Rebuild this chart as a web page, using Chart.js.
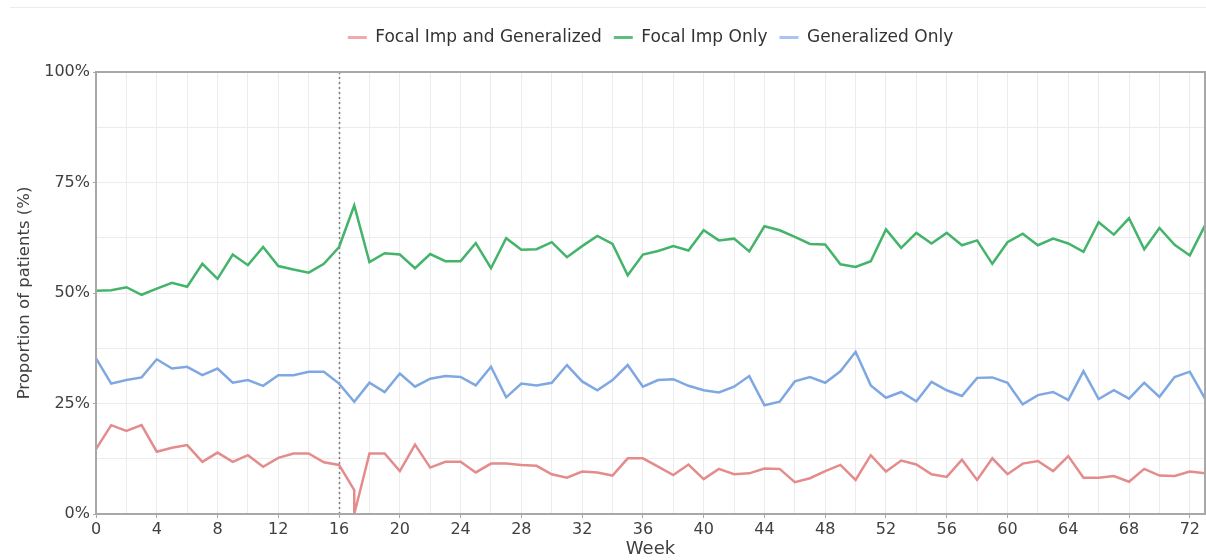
<!DOCTYPE html>
<html>
<head>
<meta charset="utf-8">
<script src="https://cdn.jsdelivr.net/npm/chart.js@4/dist/chart.umd.min.js"></script>
<style>
  html, body { margin: 0; padding: 0; background: #ffffff; }
  #wrap { position: relative; width: 1206px; height: 560px; }
  #topline { position: absolute; left: 10px; right: 0; top: 7px; height: 0; border-top: 1px solid #ececec; }
  canvas { display: block; }
</style>
</head>
<body>
<div id="wrap">
  <div id="topline"></div>
  <canvas id="c" width="1206" height="560"></canvas>
</div>
<script>
// ---- Data ----
const weeks = [0,1,2,3,4,5,6,7,8,9,10,11,12,13,14,15,16,17,18,19,20,21,22,23,24,25,26,27,28,29,30,31,32,33,34,35,36,37,38,39,40,41,42,43,44,45,46,47,48,49,50,51,52,53,54,55,56,57,58,59,60,61,62,63,64,65,66,67,68,69,70,71,72,73];

// Focal Imp and Generalized has two observations plotted at week 17
const focalGenWeeks = [0,1,2,3,4,5,6,7,8,9,10,11,12,13,14,15,16,17,17,18,19,20,21,22,23,24,25,26,27,28,29,30,31,32,33,34,35,36,37,38,39,40,41,42,43,44,45,46,47,48,49,50,51,52,53,54,55,56,57,58,59,60,61,62,63,64,65,66,67,68,69,70,71,72,73];
const focalGen = [14.7,20.1,18.8,20.1,14.1,15.0,15.6,11.8,13.9,11.8,13.3,10.7,12.7,13.7,13.7,11.7,11.1,5.4,0,13.7,13.7,9.7,15.7,10.5,11.8,11.8,9.4,11.4,11.4,11.1,10.9,9.0,8.2,9.6,9.4,8.7,12.6,12.6,10.7,8.8,11.2,7.9,10.2,9.0,9.2,10.3,10.2,7.2,8.1,9.7,11.1,7.7,13.3,9.6,12.1,11.2,9.0,8.4,12.3,7.7,12.6,9.0,11.4,12.0,9.7,13.1,8.2,8.2,8.6,7.3,10.2,8.7,8.6,9.6,9.2];

const focalOnly = [50.5,50.6,51.3,49.6,51.0,52.3,51.4,56.6,53.2,58.7,56.3,60.4,56.1,55.3,54.6,56.6,60.4,69.8,57.0,59.0,58.7,55.6,58.8,57.2,57.2,61.3,55.6,62.4,59.8,59.9,61.5,58.1,60.6,62.9,61.1,54.0,58.7,59.5,60.6,59.6,64.2,61.9,62.3,59.4,65.1,64.2,62.7,61.1,61.0,56.5,55.9,57.2,64.4,60.2,63.6,61.2,63.6,60.8,61.9,56.6,61.5,63.4,60.8,62.3,61.2,59.3,66.0,63.2,66.9,59.9,64.7,60.9,58.5,65.3];

const generalizedOnly = [35.2,29.5,30.3,30.9,35.0,32.9,33.3,31.4,32.9,29.7,30.3,29.0,31.4,31.4,32.2,32.2,29.5,25.4,29.7,27.6,31.8,28.8,30.6,31.2,31.0,29.1,33.3,26.4,29.5,29.1,29.7,33.7,30.0,28.0,30.3,33.7,28.8,30.3,30.5,29.0,28.0,27.5,28.8,31.2,24.6,25.4,30.0,31.0,29.7,32.3,36.7,29.1,26.3,27.6,25.5,29.9,28.0,26.7,30.8,30.9,29.7,24.8,26.9,27.6,25.8,32.3,26.0,28.0,26.1,29.7,26.5,31.0,32.2,26.1];

const seriesNames = ['Focal Imp and Generalized', 'Focal Imp Only', 'Generalized Only'];
const xTickLabels = [0,4,8,12,16,20,24,28,32,36,40,44,48,52,56,60,64,68,72];
const yTickLabels = [0,25,50,75,100];
const dividerWeek = 16;

// ---- Styles ----
const colors = ['#e48c8c', '#43b46a', '#7fa8e2'];
const legendColors = ['#f2a9a9', '#5cc17e', '#a9c4ee'];
const FONT = "'DejaVu Sans', sans-serif";

function pts(xs, ys) { return ys.map((v, i) => ({ x: xs[i], y: v })); }

const frameAndDivider = {
  id: 'frameAndDivider',
  beforeDatasetsDraw(chart) {
    const { ctx, chartArea: a, scales: { x } } = chart;
    const px = Math.round(x.getPixelForValue(dividerWeek)) + 0.5;
    ctx.save();
    ctx.strokeStyle = '#7a7a7a';
    ctx.lineWidth = 1.5;
    ctx.setLineDash([2, 3]);
    ctx.beginPath();
    ctx.moveTo(px, a.top);
    ctx.lineTo(px, a.bottom);
    ctx.stroke();
    ctx.restore();
  },
  afterDraw(chart) {
    const { ctx, chartArea: a } = chart;
    ctx.save();
    ctx.strokeStyle = '#a8a8a8';
    ctx.lineWidth = 2;
    ctx.strokeRect(a.left, a.top, a.right - a.left, a.bottom - a.top);
    ctx.restore();
  }
};

const legendHeight = {
  id: 'legendHeight',
  beforeLayout(chart) {
    const lg = chart.legend;
    if (lg && !lg.__patched) {
      const orig = lg.fit;
      lg.fit = function () { orig.call(this); this.height = 55; };
      lg.__patched = true;
    }
  }
};

new Chart(document.getElementById('c'), {
  type: 'line',
  data: {
    datasets: [
      { label: seriesNames[0], data: pts(focalGenWeeks, focalGen) },
      { label: seriesNames[1], data: pts(weeks, focalOnly) },
      { label: seriesNames[2], data: pts(weeks, generalizedOnly) }
    ].map((d, i) => Object.assign(d, {
      borderColor: colors[i],
      backgroundColor: legendColors[i],
      borderWidth: 2.5,
      pointRadius: 0,
      tension: 0,
      fill: false
    }))
  },
  options: {
    responsive: false,
    animation: false,
    parsing: true,
    layout: { padding: { top: 17, left: 0, right: 1, bottom: 0 } },
    plugins: {
      tooltip: { enabled: false },
      legend: {
        position: 'top',
        fullSize: false,
        labels: {
          font: { family: FONT, size: 17 },
          color: '#333333',
          boxWidth: 19,
          boxHeight: 3,
          padding: 12,
          generateLabels(chart) {
            return chart.data.datasets.map((d, i) => ({
              text: d.label,
              fillStyle: legendColors[i],
              strokeStyle: legendColors[i],
              lineWidth: 0,
              hidden: false,
              datasetIndex: i,
              fontColor: '#333333'
            }));
          }
        }
      }
    },
    scales: {
      x: {
        type: 'linear',
        min: 0,
        max: 73,
        afterFit(s) { s.height = 46; },
        ticks: {
          stepSize: 2,
          includeBounds: false,
          autoSkip: false,
          maxRotation: 0,
          padding: 2,
          color: '#404040',
          font: { family: FONT, size: 16 },
          callback: (v) => xTickLabels.includes(v) ? String(v) : ''
        },
        grid: {
          color: '#ececec',
          lineWidth: 1,
          tickLength: 4,
          tickColor: (c) => (c.tick && xTickLabels.includes(c.tick.value)) ? '#a8a8a8' : 'rgba(0,0,0,0)'
        },
        border: { color: '#a8a8a8', width: 2 },
        title: {
          display: true,
          text: 'Week',
          color: '#404040',
          font: { family: FONT, size: 18 },
          padding: { top: 0, bottom: 0 }
        }
      },
      y: {
        type: 'linear',
        min: 0,
        max: 100,
        afterFit(s) { s.width = 96; },
        ticks: {
          stepSize: 12.5,
          padding: 3,
          color: '#404040',
          font: { family: FONT, size: 16 },
          callback: (v) => yTickLabels.includes(v) ? v + '%' : ''
        },
        grid: {
          color: '#ececec',
          lineWidth: 1,
          tickLength: 3,
          tickColor: (c) => (c.tick && yTickLabels.includes(c.tick.value)) ? '#a8a8a8' : 'rgba(0,0,0,0)'
        },
        border: { color: '#a8a8a8', width: 2 },
        title: {
          display: true,
          text: 'Proportion of patients (%)',
          color: '#404040',
          font: { family: FONT, size: 16.5 },
          padding: { top: 15, bottom: 0 }
        }
      }
    }
  },
  plugins: [legendHeight, frameAndDivider]
});
</script>
</body>
</html>
